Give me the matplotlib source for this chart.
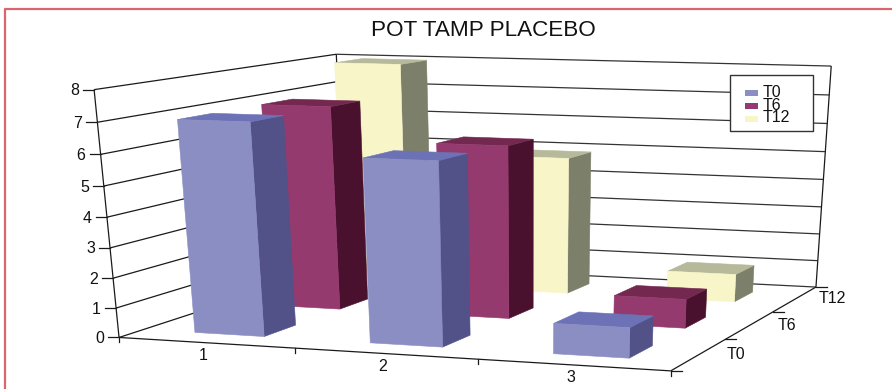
import numpy as np
import matplotlib
matplotlib.use('Agg')
import matplotlib.pyplot as plt
from matplotlib.patches import Polygon, Rectangle

plt.rcParams['font.family'] = ['Liberation Sans', 'DejaVu Sans']

title = 'POT TAMP PLACEBO'
categories = ['1', '2', '3']
series_names = ['T0', 'T6', 'T12']
z_ticks = [0, 1, 2, 3, 4, 5, 6, 7, 8]
t0_values = [7.0, 6.0, 1.0]
t6_values = [7.0, 5.9, 1.0]
t12_values = [8.0, 4.9, 1.0]

front_colors = ['#8b8ec3', '#953a6e', '#f8f6c8']
top_colors = ['#6c72b5', '#72284f', '#b6b99a']
side_colors = ['#525289', '#4a112f', '#7c7f69']

# box corners (category, depth, value) and where they land on the figure
box_3d = np.array([[0, 0, 0], [3, 0, 0], [3, 3, 0], [0, 3, 0],
                   [0, 0, 8], [0, 3, 8], [3, 3, 8]], dtype=float)
box_px = np.array([[117, 337], [671, 371], [815, 287], [348, 264],
                   [96, 90], [334, 54], [832, 66]], dtype=float)


def fit_camera(pts, px):
    # plain DLT, last matrix entry fixed to 1
    rows = []
    rhs = []
    for (x, y, z), (u, v) in zip(pts, px):
        rows.append([x, y, z, 1, 0, 0, 0, 0, -u * x, -u * y, -u * z])
        rows.append([0, 0, 0, 0, x, y, z, 1, -v * x, -v * y, -v * z])
        rhs += [u, v]
    sol = np.linalg.lstsq(np.array(rows), np.array(rhs), rcond=None)[0]
    return np.append(sol, 1).reshape(3, 4)


cam = fit_camera(box_3d, box_px)


def proj(x, y, z):
    w = cam @ np.array([x, y, z, 1.0])
    return w[0] / w[2], w[1] / w[2]


fig = plt.figure(figsize=(8.92, 3.89), dpi=100)
ax = fig.add_axes([0, 0, 1, 1])
ax.set_xlim(0, 892)
ax.set_ylim(389, 0)
ax.axis('off')

# outer frame, runs off the right and bottom edges
ax.plot([5, 5, 892], [389, 9, 9], color='#d9656f', lw=1.6)


def line3(a, b, color='#1a1a1a', lw=0.9):
    p, q = proj(*a), proj(*b)
    ax.plot([p[0], q[0]], [p[1], q[1]], color=color, lw=lw, solid_capstyle='butt')


# walls and gridlines
for z in z_ticks:
    line3((0, 0, z), (0, 3, z))
    line3((0, 3, z), (3, 3, z), color='#333333')
    px, py = proj(0, 0, z)
    ax.plot([px - 11, px], [py, py], color='#1a1a1a', lw=0.9)
    ax.text(px - 15, py + 1, str(z), ha='right', va='center', fontsize=11.5, color='#111111')
line3((0, 0, 0), (0, 0, 8))
line3((0, 3, 0), (0, 3, 8))
line3((3, 3, 0), (3, 3, 8))
line3((0, 0, 0), (3, 0, 0))
line3((3, 0, 0), (3, 3, 0))

# ticks along the floor edges
for i in range(4):
    px, py = proj(i, 0, 0)
    ax.plot([px, px], [py, py + 5], color='#1a1a1a', lw=0.9)
for i in range(4):
    px, py = proj(3, i, 0)
    ax.plot([px, px + 11], [py, py], color='#1a1a1a', lw=0.9)

for i, name in enumerate(categories):
    px, py = proj(i + 0.5, 0, 0)
    ax.text(px - 3, py + 13, name, ha='center', va='center', fontsize=11.5, color='#111111')
for i, name in enumerate(series_names):
    px, py = proj(3, i + 0.5, 0)
    ax.text(px + 37, py, name, ha='center', va='center', fontsize=11.5, color='#111111')

bar_x = (0.30, 0.70)
bar_y = (0.28, 0.68)
all_values = [t0_values, t6_values, t12_values]


def draw_bar(cat, ser, val):
    x0, x1 = cat + bar_x[0], cat + bar_x[1]
    y0, y1 = ser + bar_y[0], ser + bar_y[1]
    front = [proj(x0, y0, 0), proj(x1, y0, 0), proj(x1, y0, val), proj(x0, y0, val)]
    side = [proj(x1, y0, 0), proj(x1, y1, 0), proj(x1, y1, val), proj(x1, y0, val)]
    top = [proj(x0, y0, val), proj(x1, y0, val), proj(x1, y1, val), proj(x0, y1, val)]
    for pts, col in [(side, side_colors[ser]), (top, top_colors[ser]), (front, front_colors[ser])]:
        ax.add_patch(Polygon(pts, closed=True, facecolor=col, edgecolor=col, lw=0.4, zorder=3))


# back series first so the nearer bars cover them
for ser in [2, 1, 0]:
    for cat in range(3):
        draw_bar(cat, ser, all_values[ser][cat])

ax.text(483.5, 30, title, ha='center', va='center', fontsize=16.2, color='#111111')

# legend box, labels set as one tightly spaced block
ax.add_patch(Rectangle((730, 75), 83, 56, facecolor='white', edgecolor='#333333', lw=1.0, zorder=5))
for i, name in enumerate(series_names):
    ly = 93 + i * 13
    ax.add_patch(Rectangle((745, ly - 3), 13, 6, facecolor=front_colors[i], edgecolor='none', zorder=6))
ax.text(763, 105, '\n'.join(series_names), ha='left', va='center', fontsize=11.5,
        linespacing=0.78, color='#111111', zorder=6)

fig.savefig('out.png', dpi=100)
